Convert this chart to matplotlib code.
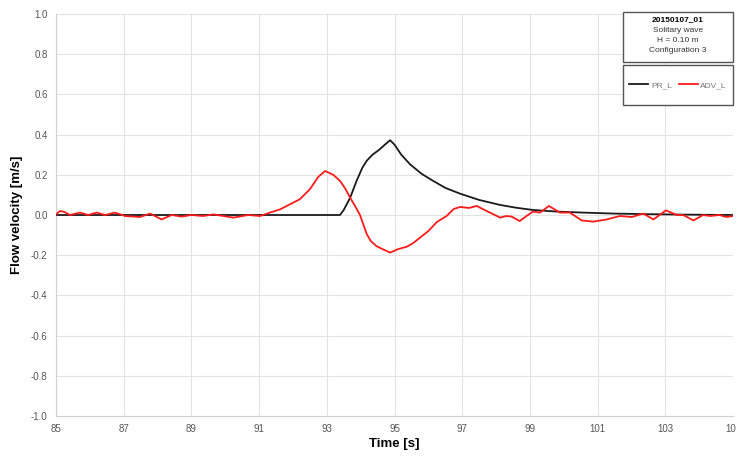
import matplotlib
matplotlib.use("Agg")
import matplotlib.pyplot as plt
import numpy as np
from matplotlib.patches import Rectangle
from matplotlib.lines import Line2D

plt.rcParams['font.family'] = ['Liberation Sans', 'DejaVu Sans']

# PR_L (black)
t_pr = np.array([85.0, 93.39, 93.5, 93.69, 93.88, 94.05, 94.18, 94.35, 94.55, 94.75, 94.87,
                 95.0, 95.2, 95.46, 95.8, 96.14, 96.5, 96.94, 97.5, 98.12, 98.6, 99.09,
                 99.8, 100.57, 101.5, 102.56, 103.5, 105.0])
v_pr = np.array([0.0, 0.0, 0.025, 0.086, 0.17, 0.235, 0.27, 0.3, 0.325, 0.355, 0.372,
                 0.35, 0.30, 0.252, 0.205, 0.17, 0.135, 0.106, 0.075, 0.05, 0.036, 0.025,
                 0.017, 0.012, 0.007, 0.004, 0.002, 0.0])

# ADV_L (red)
t_adv = np.array([85.0, 85.12, 85.25, 85.41, 85.71, 85.95, 86.2, 86.45, 86.74, 87.04, 87.48,
                  87.78, 88.12, 88.42, 88.71, 89.0, 89.35, 89.65, 90.24, 90.68, 91.03, 91.32,
                  91.62, 91.91, 92.2, 92.5, 92.75, 92.95, 93.19, 93.39, 93.55, 93.69, 93.85,
                  93.98, 94.18, 94.3, 94.47, 94.65, 94.87, 95.1, 95.36, 95.55, 95.75, 96.0,
                  96.25, 96.54, 96.75, 96.94, 97.2, 97.43, 97.6, 97.82, 98.12, 98.3, 98.46,
                  98.7, 98.9, 99.09, 99.3, 99.56, 99.89, 100.18, 100.53, 100.87, 101.27,
                  101.66, 102.01, 102.35, 102.65, 103.02, 103.34, 103.53, 103.83, 104.12,
                  104.32, 104.6, 104.8, 105.0])
v_adv = np.array([0.003, 0.02, 0.015, 0.0, 0.012, 0.0, 0.012, 0.0, 0.012, -0.005, -0.01,
                  0.007, -0.022, 0.0, -0.008, 0.0, -0.005, 0.003, -0.013, 0.0, -0.005, 0.012,
                  0.028, 0.053, 0.078, 0.128, 0.19, 0.219, 0.2, 0.17, 0.13, 0.086, 0.04,
                  0.0, -0.095, -0.13, -0.155, -0.17, -0.187, -0.17, -0.158, -0.14, -0.113, -0.08,
                  -0.035, -0.005, 0.03, 0.04, 0.035, 0.045, 0.03, 0.012, -0.013, -0.005, -0.008,
                  -0.03, -0.005, 0.017, 0.012, 0.045, 0.012, 0.012, -0.027, -0.033, -0.022,
                  -0.005, -0.01, 0.007, -0.022, 0.023, 0.0, 0.0, -0.027, 0.0,
                  -0.005, 0.0, -0.01, -0.005])

x_ticks = np.arange(85, 106, 2)
y_ticks = np.round(np.arange(-1.0, 1.01, 0.2), 1)
title_lines = ["Solitary wave", "H = 0.10 m", "Configuration 3"]

fig = plt.figure(figsize=(7.36, 4.57), dpi=100)
ax = fig.add_axes([56/736, 41/457, 677/736, 402/457])

ax.plot(t_pr, v_pr, color='#1a1a1a', lw=1.3, label='PR_L', zorder=3)
ax.plot(t_adv, v_adv, color='#ff1a1a', lw=1.3, label='ADV_L', zorder=3)

ax.set_xlim(85, 105)
ax.set_ylim(-1.0, 1.0)
ax.set_xticks(x_ticks)
ax.set_yticks(y_ticks)
ax.set_yticklabels([f"{v + 0.0:.1f}" if abs(v) > 1e-9 else "0.0" for v in y_ticks])
ax.grid(True, color='#e3e3e3', lw=0.8)
ax.set_axisbelow(True)
ax.tick_params(length=0, labelsize=7, colors='#555555', pad=6)
for s in ['top', 'right']:
    ax.spines[s].set_visible(False)
for s in ['left', 'bottom']:
    ax.spines[s].set_color('#d0d0d0')
    ax.spines[s].set_linewidth(0.8)

ax.set_xlabel('Time [s]', fontsize=9.5, fontweight='bold', labelpad=3)
ax.set_ylabel('Flow velocity [m/s]', fontsize=9.5, fontweight='bold', labelpad=6)

# Title box
fig.add_artist(Rectangle((623/736, 1 - 62/457), 110/736, 50/457, transform=fig.transFigure,
                         facecolor='white', edgecolor='#555555', lw=1.0, zorder=5))
fig.text(678/736, 1 - 20/457, "20150107_01", ha='center', va='center', fontsize=6,
         fontweight='bold', zorder=6)
for i, line in enumerate(title_lines):
    fig.text(678/736, 1 - (30 + i * 10)/457, line, ha='center', va='center', fontsize=6,
             color='#333333', zorder=6)

# Legend box
fig.add_artist(Rectangle((623/736, 1 - 105/457), 110/736, 40/457, transform=fig.transFigure,
                         facecolor='white', edgecolor='#555555', lw=1.0, zorder=5))
handles = [Line2D([], [], color='#1a1a1a', lw=1.3), Line2D([], [], color='#ff1a1a', lw=1.3)]
leg = fig.legend(handles, ['PR_L', 'ADV_L'], loc='center',
                 bbox_to_anchor=(678/736, 1 - 85/457), bbox_transform=fig.transFigure,
                 ncol=2, frameon=False, fontsize=6, handlelength=2.3, handletextpad=0.3,
                 columnspacing=0.8, labelcolor='#777777')
leg.set_zorder(6)

fig.savefig("out.png", dpi=100)
